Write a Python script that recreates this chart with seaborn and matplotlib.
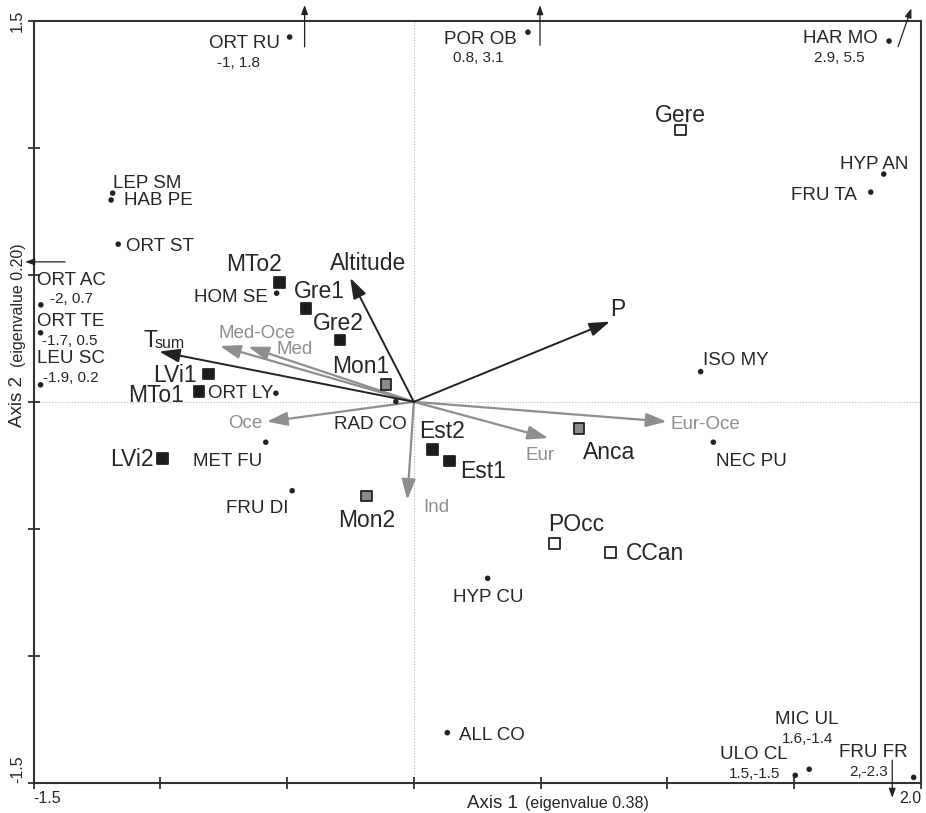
import matplotlib
matplotlib.use("Agg")
import matplotlib.pyplot as plt
import numpy as np
import pandas as pd
import seaborn as sns
from matplotlib.transforms import offset_copy

# ---------------- data ----------------
species = ['ORT RU', 'POR OB', 'HAR MO', 'HYP AN', 'FRU TA', 'LEP SM', 'HAB PE',
           'ORT ST', 'ORT AC', 'ORT TE', 'LEU SC', 'HOM SE', 'ORT LY', 'RAD CO',
           'MET FU', 'FRU DI', 'ISO MY', 'NEC PU', 'HYP CU', 'ALL CO', 'MIC UL',
           'ULO CL', 'FRU FR']
species_x = [-0.49, 0.450, 1.874, 1.853, 1.802, -1.188, -1.194, -1.166, -1.471,
             -1.472, -1.472, -0.541, -0.544, -0.071, -0.584, -0.480, 1.131, 1.181,
             0.291, 0.132, 1.559, 1.504, 1.971]
species_y = [1.437, 1.456, 1.421, 0.897, 0.826, 0.822, 0.795, 0.621, 0.382, 0.272,
             0.067, 0.428, 0.034, 0.001, -0.159, -0.350, 0.119, -0.159, -0.695,
             -1.303, -1.447, -1.471, -1.479]

# true scores of the species plotted at the border
offchart_names = ['ORT RU', 'POR OB', 'HAR MO', 'ORT AC', 'ORT TE', 'LEU SC',
                  'MIC UL', 'ULO CL', 'FRU FR']
offchart_scores = ['-1, 1.8', '0.8, 3.1', '2.9, 5.5', '-2, 0.7', '-1.7, 0.5',
                   '-1.9, 0.2', '1.6,-1.4', '1.5,-1.5', '2,-2.3']

sites = ['MTo2', 'Gre1', 'Gre2', 'LVi1', 'MTo1', 'LVi2', 'Est2', 'Est1',
         'Mon1', 'Mon2', 'Anca', 'Gere', 'POcc', 'CCan']
site_x = [-0.531, -0.425, -0.291, -0.811, -0.847, -0.992, 0.073, 0.140,
          -0.110, -0.186, 0.651, 1.053, 0.554, 0.776]
site_y = [0.471, 0.369, 0.244, 0.110, 0.040, -0.222, -0.187, -0.233,
          0.069, -0.371, -0.104, 1.071, -0.557, -0.592]
site_group = ['black'] * 8 + ['grey'] * 3 + ['open'] * 3

env_vars = ['Altitude', 'T', 'P']
env_subscripts = ['', 'sum', '']
env_x = [-0.251, -1.004, 0.773]
env_y = [0.488, 0.198, 0.316]

bio_vars = ['Med-Oce', 'Med', 'Oce', 'Ind', 'Eur', 'Eur-Oce']
bio_x = [-0.765, -0.653, -0.580, -0.026, 0.530, 0.997]
bio_y = [0.220, 0.217, -0.078, -0.386, -0.143, -0.078]

x_ticks = [-1.5, -1.0, -0.5, 0.0, 0.5, 1.0, 1.5, 2.0]
x_ticklabels = ['-1.5', '', '', '', '', '', '', '2.0']
y_ticks = [-1.5, -1.0, -0.5, 0.0, 0.5, 1.0, 1.5]
y_ticklabels = ['-1.5', '', '', '', '', '', '1.5']

# ---------------- label placement (pixel offsets, y down) ----------------
species_lab = {
    'ORT RU': ('right', -10, 4), 'POR OB': ('right', -11, 5),
    'HAR MO': ('right', -11, -5), 'HYP AN': ('center', -9.5, -12),
    'FRU TA': ('right', -14, 1), 'LEP SM': ('left', 0, -12),
    'HAB PE': ('left', 13, -2), 'ORT ST': ('left', 8, 0),
    'ORT AC': ('left', -3.4, -27), 'ORT TE': ('left', -3.4, -13.4),
    'LEU SC': ('left', -3.4, -28.3), 'HOM SE': ('right', -8.4, 1.7),
    'ORT LY': ('right', -2.7, -1.6), 'RAD CO': ('right', 11.3, 21),
    'MET FU': ('right', -3.4, 16.7), 'FRU DI': ('right', -4, 16),
    'ISO MY': ('left', 2.6, -13.4), 'NEC PU': ('left', 2.7, 16.7),
    'HYP CU': ('center', 0.2, 16.7), 'ALL CO': ('left', 12, 0.6),
    'MIC UL': ('center', -2.5, -52), 'ULO CL': ('right', -8, -23),
    'FRU FR': ('right', -6, -26.6),
}
score_lab = {
    'ORT RU': ('center', -51, 24.7), 'POR OB': ('center', -50, 24.4),
    'HAR MO': ('center', -50, 15.7), 'ORT AC': ('left', 9, -7),
    'ORT TE': ('left', 1.6, 6.6), 'LEU SC': ('left', 2.6, -8.3),
    'MIC UL': ('center', -2, -31.6), 'ULO CL': ('right', -15.3, -2.6),
    'FRU FR': ('right', -25.4, -7.3),
}
# off-chart indicator arrows: start / end pixel offsets from the point
offchart_arrows = {
    'ORT RU': ((15, 10), (15, -32)), 'POR OB': ((12, 13), (12, -27)),
    'HAR MO': ((9, 5.7), (22.3, -32.7)), 'ORT AC': ((24.3, -43), (-15.7, -43)),
    'FRU FR': ((-21.4, -17.3), (-21.4, 20.4)),
}
site_lab = {
    'MTo2': ('right', 2.4, -19), 'Gre1': ('left', -12.7, -18.3),
    'Gre2': ('left', -26.7, -18.3), 'LVi1': ('right', -11.6, -0.5),
    'MTo1': ('right', -15, 2.0), 'LVi2': ('right', -9, 0),
    'Est2': ('left', -13, -20), 'Est1': ('left', 10.7, 8.3),
    'Mon1': ('right', 3.3, -19.3), 'Mon2': ('center', 0, 22.3),
    'Anca': ('left', 4.3, 22.4), 'Gere': ('center', 0, -16),
    'POcc': ('left', -6, -20.6), 'CCan': ('left', 15.3, -0.6),
}
env_lab = [('left', -20, -16), ('left', -16, -12.7), ('left', 0.7, -13.4)]
env_sub_lab = [None, ('left', -4.3, -9.0), None]
bio_lab = [('left', -1.7, -14.3), ('left', 28.4, 0.6), ('right', -4.4, 0),
           ('left', 16, 5), ('left', -22.3, 15), ('left', 4, 0.6)]

# ---------------- style ----------------
sns.set_style('white')
plt.rcParams['font.family'] = ['Liberation Sans', 'DejaVu Sans']

TXT = '#262626'
GREY = '#8e8e8e'
W, H = 926, 813
fig = plt.figure(figsize=(W / 100, H / 100), dpi=100)
L, R, T, B = 33.5, 921.0, 21.0, 782.7
ax = fig.add_axes([L / W, 1 - B / H, (R - L) / W, (B - T) / H])
ax.set_xlim(-1.5, 2.0)
ax.set_ylim(-1.5, 1.5)

ax.axhline(0, color='#b5b5b5', lw=0.8, ls=(0, (1, 1.6)), zorder=0)
ax.axvline(0, color='#b5b5b5', lw=0.8, ls=(0, (1, 1.6)), zorder=0)


def label(x, y, text, ha, dx, dy, size, color=TXT):
    em = size * fig.dpi / 72.0
    ax.annotate(text, (x, y), xytext=(dx, -(dy + 0.358 * em)),
                textcoords='offset pixels', ha=ha, va='baseline',
                fontsize=size, color=color, annotation_clip=False, zorder=6)


# biogeographic arrows (grey)
for name, bx, by, (ha, dx, dy) in zip(bio_vars, bio_x, bio_y, bio_lab):
    ax.annotate('', xy=(bx, by), xytext=(0, 0),
                arrowprops=dict(arrowstyle='-|>,head_length=1.25,head_width=0.42',
                                mutation_scale=10, color=GREY, lw=1.6,
                                shrinkA=0, shrinkB=0), zorder=2)
    label(bx, by, name, ha, dx, dy, 13.5, GREY)

# environmental arrows (black)
for name, sub, vx, vy, (ha, dx, dy), sublab in zip(env_vars, env_subscripts, env_x,
                                                   env_y, env_lab, env_sub_lab):
    ax.annotate('', xy=(vx, vy), xytext=(0, 0),
                arrowprops=dict(arrowstyle='-|>,head_length=1.25,head_width=0.42',
                                mutation_scale=10, color='#222222', lw=1.4,
                                shrinkA=0, shrinkB=0), zorder=3)
    label(vx, vy, name, ha, dx, dy, 16.5)
    if sub:
        sha, sdx, sdy = sublab
        label(vx, vy, sub, sha, sdx, sdy, 11.5)

# species points
sp_df = pd.DataFrame({'species': species, 'x': species_x, 'y': species_y})
sns.scatterplot(data=sp_df, x='x', y='y', color='#222222', s=16,
                edgecolor='none', legend=False, ax=ax, zorder=5, clip_on=False)
for name, sx, sy in zip(species, species_x, species_y):
    ha, dx, dy = species_lab[name]
    label(sx, sy, name, ha, dx, dy, 13.5)
for name, score in zip(offchart_names, offchart_scores):
    i = species.index(name)
    ha, dx, dy = score_lab[name]
    label(species_x[i], species_y[i], score, ha, dx, dy, 11)
    if name in offchart_arrows:
        (sx0, sy0), (ex0, ey0) = offchart_arrows[name]
        t_start = offset_copy(ax.transData, fig=fig, x=sx0, y=-sy0, units='dots')
        t_end = offset_copy(ax.transData, fig=fig, x=ex0, y=-ey0, units='dots')
        ax.annotate('', xy=(species_x[i], species_y[i]), xycoords=t_end,
                    xytext=(species_x[i], species_y[i]), textcoords=t_start,
                    arrowprops=dict(arrowstyle='-|>,head_length=0.55,head_width=0.2',
                                    mutation_scale=10, color='#222222', lw=0.9,
                                    shrinkA=0, shrinkB=0),
                    annotation_clip=False, zorder=6)

# sites
site_df = pd.DataFrame({'site': sites, 'x': site_x, 'y': site_y, 'group': site_group})
sns.scatterplot(data=site_df, x='x', y='y', hue='group', marker='s', s=60,
                palette={'black': '#1c1c1c', 'grey': '#8a8a8a', 'open': '#ffffff'},
                edgecolor='#222222', linewidth=1.3, legend=False, ax=ax, zorder=5)
for name, sx, sy in zip(sites, site_x, site_y):
    ha, dx, dy = site_lab[name]
    label(sx, sy, name, ha, dx, dy, 16.5)

# ---------------- axes ----------------
for sp in ax.spines.values():
    sp.set_color('#333333')
    sp.set_linewidth(1.5)
ax.set_xticks(x_ticks)
ax.set_xticklabels(x_ticklabels, fontsize=11.5, color=TXT)
ax.set_yticks(y_ticks)
ax.set_yticklabels(y_ticklabels, fontsize=11.5, color=TXT, rotation=90)
ax.tick_params(axis='both', direction='inout', length=8, width=1.3,
               color='#333333', bottom=True, left=True)
ax.tick_params(axis='x', pad=2)
ax.tick_params(axis='y', pad=2)
xl = ax.get_xticklabels()
xl[0].set_ha('left')
xl[-1].set_ha('right')
yl = ax.get_yticklabels()
yl[0].set_va('bottom')
yl[-1].set_va('center')
ax.set_xlabel('')
ax.set_ylabel('')

fig.text(466.7 / W, 1 - 807.5 / H, 'Axis 1', fontsize=13.5, color=TXT,
         ha='left', va='baseline')
fig.text(525 / W, 1 - 807.5 / H, '(eigenvalue 0.38)', fontsize=11.5, color=TXT,
         ha='left', va='baseline')
fig.text(22.5 / W, 1 - 426.7 / H, 'Axis 2', fontsize=13.5, color=TXT,
         ha='left', va='baseline', rotation=90, rotation_mode='anchor')
fig.text(22.5 / W, 1 - 367 / H, '(eigenvalue 0.20)', fontsize=11.5, color=TXT,
         ha='left', va='baseline', rotation=90, rotation_mode='anchor')

fig.savefig('out.png', dpi=100)
